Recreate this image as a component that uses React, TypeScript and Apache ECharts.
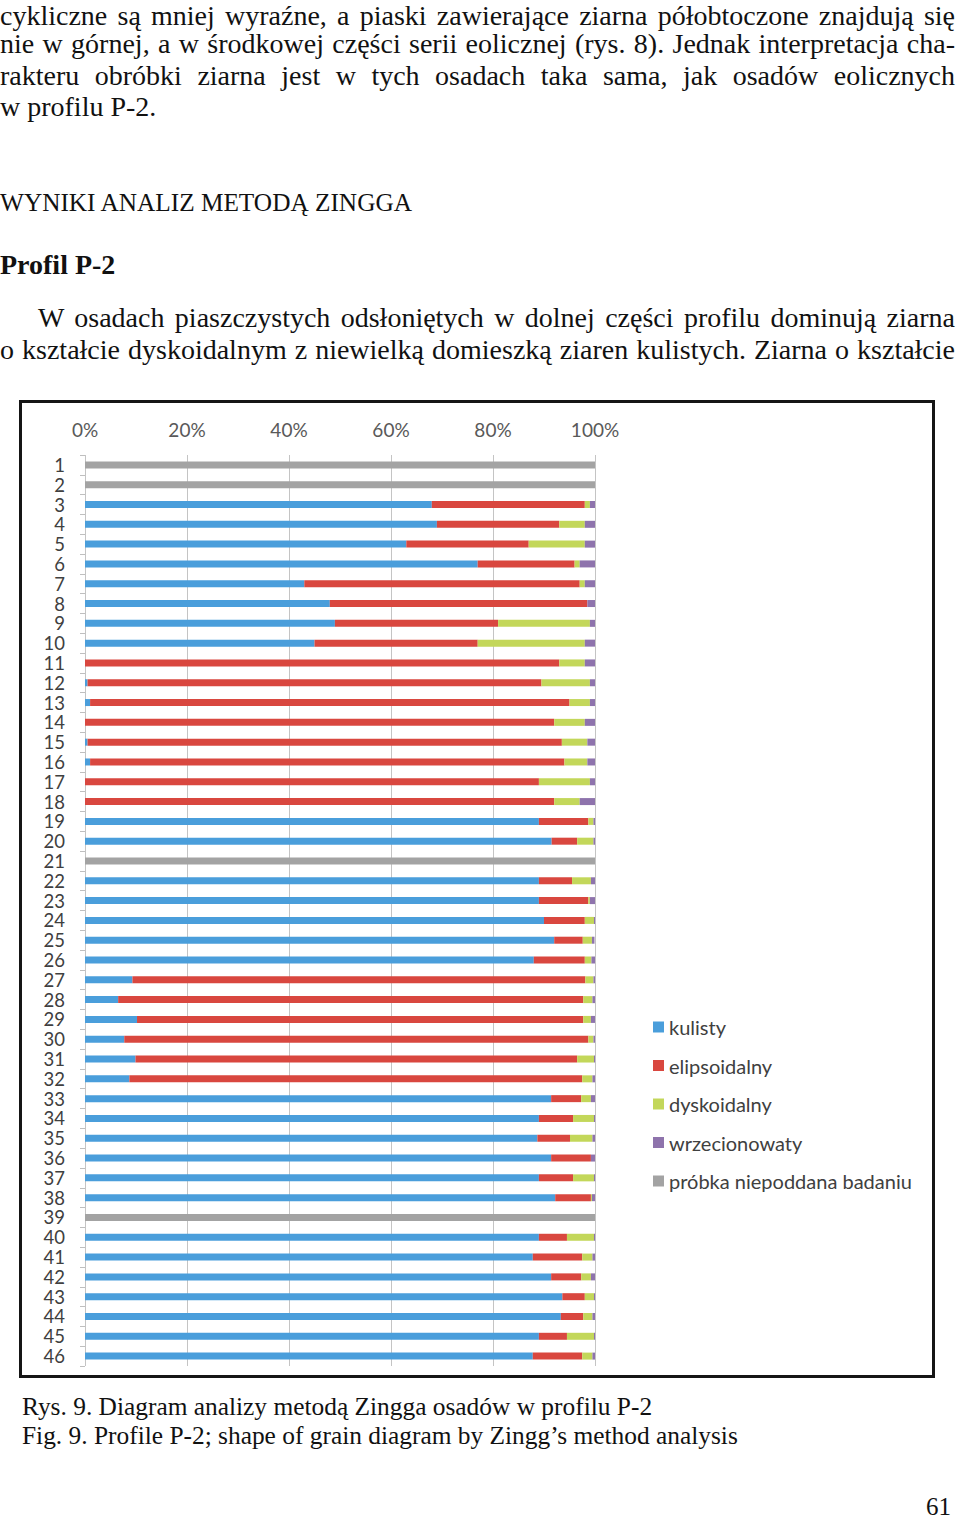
import React, { useEffect, useRef } from "react";
import * as echarts from "echarts";

const categories = [
  "1", "2", "3", "4", "5", "6", "7", "8", "9", "10",
  "11", "12", "13", "14", "15", "16", "17", "18", "19", "20",
  "21", "22", "23", "24", "25", "26", "27", "28", "29", "30",
  "31", "32", "33", "34", "35", "36", "37", "38", "39", "40",
  "41", "42", "43", "44", "45", "46",
];

const kulisty = [
  0, 0, 68, 69, 63, 77, 43, 48, 49, 45,
  0, 0.5, 1, 0, 0.5, 1, 0, 0, 89, 91.5,
  0, 89, 89, 90, 92, 88, 9.3, 6.5, 10.2, 7.7,
  9.9, 8.7, 91.4, 89, 88.7, 91.4, 89, 92.2, 0, 89,
  87.8, 91.4, 93.6, 93.3, 89, 87.8,
];
const elipsoidalny = [
  0, 0, 30, 24, 24, 19, 54, 50.5, 32, 32,
  93, 89, 94, 92, 93, 93, 89, 92, 9.7, 5,
  0, 6.5, 9.7, 8, 5.6, 10, 88.8, 91.2, 87.5, 91,
  86.6, 88.8, 5.9, 6.7, 6.4, 7.8, 6.7, 7, 0, 5.5,
  9.7, 5.9, 4.4, 4.4, 5.5, 9.7,
];
const dyskoidalny = [
  0, 0, 1, 5, 11, 1, 1, 0, 18, 21,
  5, 9.5, 4, 6, 5, 4.5, 10, 5, 1, 3.2,
  0, 3.7, 0.3, 1.8, 1.8, 1.3, 1.6, 1.8, 1.5, 1,
  3.3, 2, 1.9, 4.1, 4.4, 0, 4.1, 0.2, 0, 5.3,
  2, 1.9, 1.8, 1.8, 5.3, 2,
];
const wrzecionowaty = [
  0, 0, 1, 2, 2, 3, 2, 1.5, 1, 2,
  2, 1, 1, 2, 1.5, 1.5, 1, 3, 0.3, 0.3,
  0, 0.8, 1, 0.2, 0.5, 0.7, 0.3, 0.5, 0.8, 0.3,
  0.2, 0.5, 0.8, 0.2, 0.5, 0.8, 0.2, 0.6, 0, 0.2,
  0.5, 0.8, 0.2, 0.5, 0.2, 0.5,
];
const niepoddana = [
  100, 100, 0, 0, 0, 0, 0, 0, 0, 0,
  0, 0, 0, 0, 0, 0, 0, 0, 0, 0,
  100, 0, 0, 0, 0, 0, 0, 0, 0, 0,
  0, 0, 0, 0, 0, 0, 0, 0, 100, 0,
  0, 0, 0, 0, 0, 0,
];

const seriesNames = ["kulisty", "elipsoidalny", "dyskoidalny", "wrzecionowaty", "próbka niepoddana badaniu"];
const seriesColors = ["#4a9edb", "#d9473f", "#c3d75a", "#8e73ac", "#a3a3a3"];
const seriesValues = [kulisty, elipsoidalny, dyskoidalny, wrzecionowaty, niepoddana];
const xTicks = { min: 0, max: 100, interval: 20 };

const serif = '"Liberation Serif", "Times New Roman", serif';
const sans = 'Lato, "Open Sans", sans-serif';

const topLines = [
  "cykliczne są mniej wyraźne, a piaski zawierające ziarna półobtoczone znajdują się",
  "nie w górnej, a w środkowej części serii eolicznej (rys. 8). Jednak interpretacja cha-",
  "rakteru obróbki ziarna jest w tych osadach taka sama, jak osadów eolicznych",
];
const topLast = "w profilu P-2.";
const heading = "WYNIKI ANALIZ METODĄ ZINGGA";
const subheading = "Profil P-2";
const paraLine1 = "W osadach piaszczystych odsłoniętych w dolnej części profilu dominują ziarna";
const paraLine2 = "o kształcie dyskoidalnym z niewielką domieszką ziaren kulistych. Ziarna o kształcie";
const caption1 = "Rys. 9. Diagram analizy metodą Zingga osadów w profilu P-2";
const caption2 = "Fig. 9. Profile P-2; shape of grain diagram by Zingg’s method analysis";
const pageNumber = "61";

function JLine({ text, top, left = 0, width = 955, size = 28, lh = 30 }: { text: string; top: number; left?: number; width?: number; size?: number; lh?: number }) {
  return (
    <div
      style={{
        position: "absolute",
        top,
        left,
        width,
        fontFamily: serif,
        fontSize: size,
        lineHeight: lh + "px",
        color: "#111",
        textAlign: "justify",
        textAlignLast: "justify",
        whiteSpace: "nowrap",
      }}
    >
      {text}
    </div>
  );
}

function PLine({ text, top, left = 0, size = 28, bold = false, lh = 30 }: { text: string; top: number; left?: number; size?: number; bold?: boolean; lh?: number }) {
  return (
    <div
      style={{
        position: "absolute",
        top,
        left,
        fontFamily: serif,
        fontSize: size,
        lineHeight: lh + "px",
        fontWeight: bold ? "bold" : "normal",
        color: "#111",
        whiteSpace: "nowrap",
      }}
    >
      {text}
    </div>
  );
}

export default function App() {
  const ref = useRef<HTMLDivElement>(null);

  useEffect(() => {
    if (!ref.current) return;
    const chart = echarts.init(ref.current, null, { renderer: "svg" });
    chart.setOption({
      animation: false,
      backgroundColor: "#ffffff",
      grid: { left: 63, top: 52, width: 510, height: 911, containLabel: false },
      legend: {
        orient: "vertical",
        left: 626,
        top: 609,
        itemWidth: 11,
        itemHeight: 11,
        itemGap: 18.5,
        icon: "rect",
        data: seriesNames,
        textStyle: { fontFamily: sans, fontSize: 20, color: "#404040", lineHeight: 20 },
      },
      xAxis: {
        type: "value",
        position: "top",
        min: xTicks.min,
        max: xTicks.max,
        interval: xTicks.interval,
        axisLine: { show: false },
        axisTick: { show: false },
        axisLabel: { formatter: "{value}%", fontFamily: sans, fontSize: 19, color: "#595959", margin: 16 },
        splitLine: { show: true, lineStyle: { color: "#c4c4c4", width: 1 } },
      },
      yAxis: {
        type: "category",
        data: categories,
        inverse: true,
        axisLine: { show: false },
        axisTick: { show: true, length: 5, interval: 0, lineStyle: { color: "#bfbfbf" } },
        axisLabel: { interval: 0, fontFamily: sans, fontSize: 18.5, lineHeight: 18, color: "#404040", margin: 20 },
        splitLine: { show: false },
      },
      series: seriesNames.map((name, i) => ({
        name,
        type: "bar",
        stack: "total",
        barWidth: 7,
        itemStyle: { color: seriesColors[i] },
        data: seriesValues[i],
      })),
    });
    return () => chart.dispose();
  }, []);

  return (
    <div style={{ position: "absolute", left: 0, top: 0, width: 960, height: 1520, background: "#fff", overflow: "hidden" }}>
      <JLine text={topLines[0]} top={2} lh={28} />
      <JLine text={topLines[1]} top={29} />
      <JLine text={topLines[2]} top={61} />
      <PLine text={topLast} top={92} />
      <PLine text={heading} top={187} size={25.3} />
      <PLine text={subheading} top={250} bold />
      <JLine text={paraLine1} top={303} left={38} width={917} />
      <JLine text={paraLine2} top={335} />
      <div
        style={{
          position: "absolute",
          left: 19,
          top: 400,
          width: 916,
          height: 978,
          border: "3px solid #151515",
          boxSizing: "border-box",
          background: "#fff",
        }}
      >
        <div ref={ref} style={{ width: 910, height: 972 }} />
      </div>
      <PLine text={caption1} top={1392} left={22} size={25.4} lh={28} />
      <PLine text={caption2} top={1421} left={22} size={25.4} lh={28} />
      <div
        style={{
          position: "absolute",
          top: 1494,
          left: 926,
          fontFamily: serif,
          fontSize: 25,
          lineHeight: "26px",
          color: "#111",
        }}
      >
        {pageNumber}
      </div>
    </div>
  );
}
